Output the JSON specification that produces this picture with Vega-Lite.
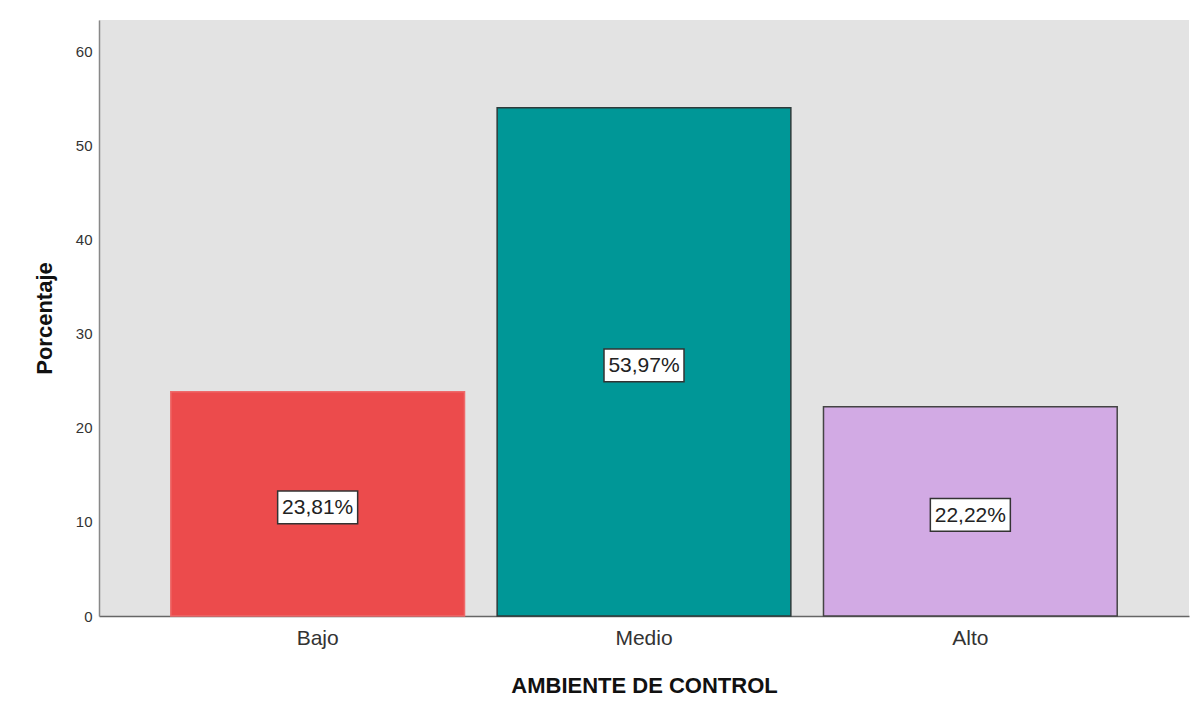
{
  "$schema": "https://vega.github.io/schema/vega-lite/v6.json",
  "width": 1090,
  "height": 596,
  "autosize": {"type": "none"},
  "padding": {"left": 99, "top": 20, "right": 3, "bottom": 93},
  "background": "white",
  "data": {
    "values": [
      {"nivel": "Bajo", "pct": 23.81, "label": "23,81%"},
      {"nivel": "Medio", "pct": 53.97, "label": "53,97%"},
      {"nivel": "Alto", "pct": 22.22, "label": "22,22%"}
    ]
  },
  "encoding": {
    "x": {
      "field": "nivel",
      "type": "nominal",
      "sort": ["Bajo", "Medio", "Alto"],
      "scale": {"paddingInner": 0.1, "paddingOuter": 0.22},
      "axis": {
        "title": "AMBIENTE DE CONTROL",
        "titleFont": "Liberation Sans",
        "titleFontSize": 22,
        "titleFontWeight": "bold",
        "titleColor": "#111111",
        "titlePadding": 27,
        "labelFont": "Liberation Sans",
        "labelFontSize": 21,
        "labelColor": "#333333",
        "labelAngle": 0,
        "labelPadding": 11,
        "ticks": false,
        "domainColor": "#666666",
        "domainWidth": 1.5
      }
    }
  },
  "layer": [
    {
      "mark": {"type": "bar", "strokeWidth": 1.5},
      "encoding": {
        "y": {
          "field": "pct",
          "type": "quantitative",
          "scale": {"domain": [0, 63.3], "nice": false},
          "axis": {
            "title": "Porcentaje",
            "titleFont": "Liberation Sans",
            "titleFontSize": 22,
            "titleFontWeight": "bold",
            "titleColor": "#111111",
            "titlePadding": 19,
            "values": [0, 10, 20, 30, 40, 50, 60],
            "labelFont": "Liberation Sans",
            "labelFontSize": 15,
            "labelColor": "#333333",
            "labelPadding": 7,
            "ticks": false,
            "grid": false,
            "domainColor": "#888888",
            "domainWidth": 1.5
          }
        },
        "color": {
          "field": "nivel",
          "type": "nominal",
          "scale": {"domain": ["Bajo", "Medio", "Alto"], "range": ["#EC4B4C", "#009797", "#D2AAE4"]},
          "legend": null
        },
        "stroke": {
          "field": "nivel",
          "type": "nominal",
          "scale": {"domain": ["Bajo", "Medio", "Alto"], "range": ["#EE6A6A", "#2E3B3B", "#444444"]},
          "legend": null
        }
      }
    },
    {
      "transform": [{"calculate": "datum.pct / 2", "as": "mid"}],
      "mark": {
        "type": "point",
        "shape": "M-1,-0.41H1V0.41H-1Z",
        "size": 6400,
        "filled": true,
        "fill": "white",
        "fillOpacity": 1,
        "stroke": "#333333",
        "strokeWidth": 1.5,
        "opacity": 1,
        "yOffset": 3.5
      },
      "encoding": {
        "y": {"field": "mid", "type": "quantitative"}
      }
    },
    {
      "transform": [{"calculate": "datum.pct / 2", "as": "mid"}],
      "mark": {
        "type": "text",
        "font": "Liberation Sans",
        "fontSize": 21,
        "color": "#222222",
        "baseline": "middle",
        "align": "center",
        "yOffset": 4.5
      },
      "encoding": {
        "y": {"field": "mid", "type": "quantitative"},
        "text": {"field": "label", "type": "nominal"}
      }
    }
  ],
  "config": {
    "view": {"fill": "#E3E3E3", "stroke": null}
  }
}
